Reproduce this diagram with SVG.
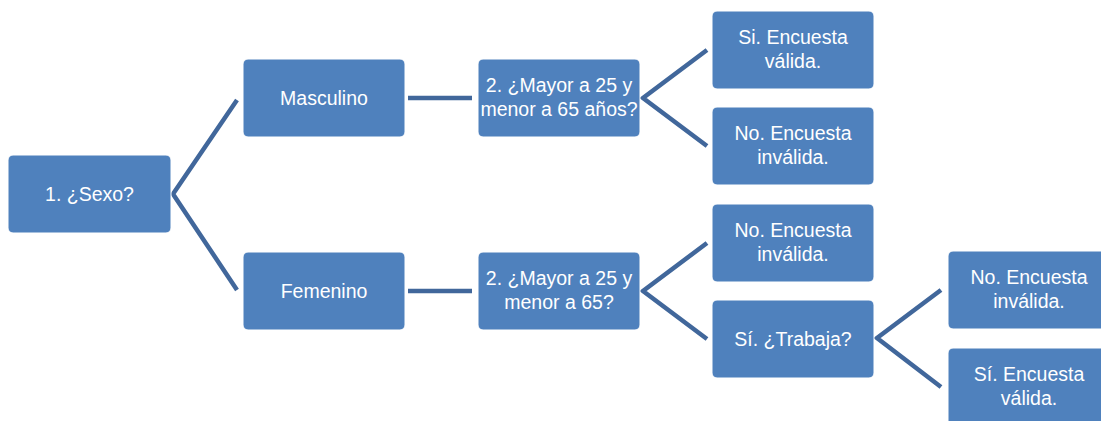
<svg xmlns="http://www.w3.org/2000/svg" width="1101" height="421" viewBox="0 0 1101 421">
<style>
.n{fill:#4F81BD;stroke:#FFFFFF;stroke-width:1}
.t{font-family:"Liberation Sans",Arial,sans-serif;font-size:19.5px;fill:#FFFFFF;text-anchor:middle}
.c{fill:none;stroke:#41679B;stroke-width:4.5;stroke-linejoin:miter}
</style>
<rect width="1101" height="421" fill="#FFFFFF"/>
<g id="connectors">
<polyline class="c" points="237,100 173,194 237,290"/>
<line class="c" x1="408" y1="98" x2="472" y2="98"/>
<line class="c" x1="408" y1="291" x2="472" y2="291"/>
<polyline class="c" points="707,50 643,98 707,146"/>
<polyline class="c" points="707,243 643,291 707,339"/>
<polyline class="c" points="941,290 877,338 941,387"/>
</g>
<g id="n1"><rect class="n" x="8" y="155" width="163" height="78" rx="5"/><text class="t" x="89.5" y="201">1. ¿Sexo?</text></g>
<g id="n2"><rect class="n" x="243" y="59" width="162" height="78" rx="5"/><text class="t" x="324" y="105">Masculino</text></g>
<g id="n3"><rect class="n" x="243" y="252" width="162" height="78" rx="5"/><text class="t" x="324" y="298">Femenino</text></g>
<g id="n4"><rect class="n" x="478" y="59" width="162" height="78" rx="5"/><text class="t" x="559" y="92">2. ¿Mayor a 25 y</text><text class="t" x="559" y="116">menor a 65 años?</text></g>
<g id="n5"><rect class="n" x="478" y="252" width="162" height="78" rx="5"/><text class="t" x="559" y="285">2. ¿Mayor a 25 y</text><text class="t" x="559" y="309">menor a 65?</text></g>
<g id="n6"><rect class="n" x="712" y="11" width="162" height="78" rx="5"/><text class="t" x="793" y="44">Si. Encuesta</text><text class="t" x="793" y="68">válida.</text></g>
<g id="n7"><rect class="n" x="712" y="107" width="162" height="78" rx="5"/><text class="t" x="793" y="140">No. Encuesta</text><text class="t" x="793" y="164">inválida.</text></g>
<g id="n8"><rect class="n" x="712" y="204" width="162" height="78" rx="5"/><text class="t" x="793" y="237">No. Encuesta</text><text class="t" x="793" y="261">inválida.</text></g>
<g id="n9"><rect class="n" x="712" y="300" width="162" height="78" rx="5"/><text class="t" x="793" y="346">Sí. ¿Trabaja?</text></g>
<g id="n10"><rect class="n" x="948" y="251" width="162" height="78" rx="5"/><text class="t" x="1029" y="284">No. Encuesta</text><text class="t" x="1029" y="308">inválida.</text></g>
<g id="n11"><rect class="n" x="948" y="348" width="162" height="78" rx="5"/><text class="t" x="1029" y="381">Sí. Encuesta</text><text class="t" x="1029" y="405">válida.</text></g>
</svg>
